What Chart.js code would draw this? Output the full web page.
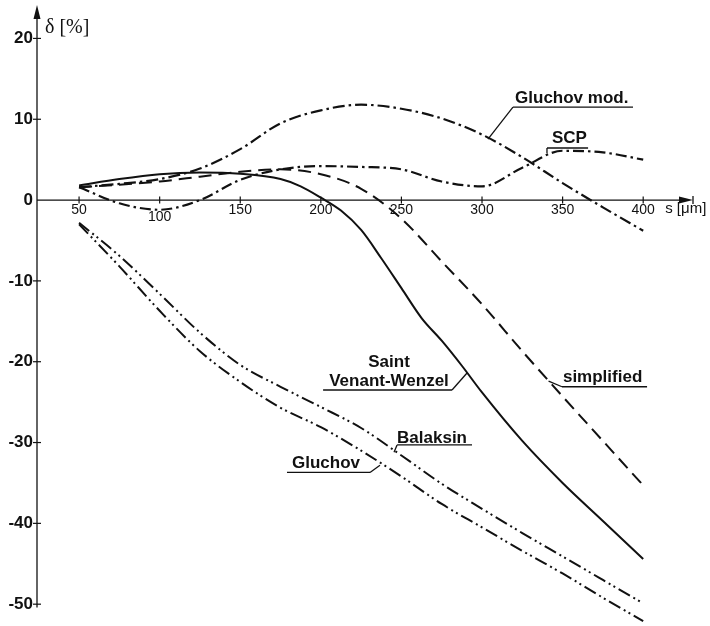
<!DOCTYPE html>
<html>
<head>
<meta charset="utf-8">
<script src="https://cdn.jsdelivr.net/npm/chart.js@4/dist/chart.umd.min.js"></script>
<style>
  html, body { margin: 0; padding: 0; background: #fff; }
  #wrap { width: 710px; height: 626px; }
</style>
</head>
<body>
<div id="wrap"><canvas id="c" width="710" height="626"></canvas></div>
<script>
// feed s [µm] shared by most curves
const sGrid = [50, 75, 100, 125, 150, 175, 200, 225, 250, 275, 300, 325, 350, 375, 400];

// Saint Venant-Wenzel needs a finer spacing through its bend
const sSaintVenant = [50, 75, 100, 125, 150, 175, 187.5, 200, 212.5, 225, 237.5, 250, 262.5, 275, 287.5, 300, 325, 350, 375, 400];
const saintVenant  = [1.8, 2.6, 3.2, 3.4, 3.25, 2.6, 1.7, 0.3, -1.3, -3.7, -7.2, -10.9, -14.6, -17.4, -20.5, -23.8, -29.8, -35.0, -39.7, -44.4];

// deviation delta [%] on sGrid
const simplified = [1.6, 1.9, 2.3, 2.9, 3.5, 3.8, 3.2, 1.4, -2.3, -7.6, -12.9, -18.7, -24.3, -29.8, -35.3];
const gluchovMod = [1.6, 2.0, 2.6, 3.9, 6.3, 9.5, 11.1, 11.8, 11.3, 10.1, 8.1, 5.3, 2.1, -0.9, -3.8];
const scp        = [1.6, -0.4, -1.2, 0.0, 2.5, 3.8, 4.2, 4.1, 3.8, 2.3, 1.7, 4.0, 6.1, 5.9, 5.0];
const balaksin   = [-2.8, -6.9, -11.6, -16.4, -20.4, -23.1, -25.6, -28.2, -31.6, -35.1, -38.2, -41.2, -44.1, -47.0, -49.9];
const gluchov    = [-3.0, -8.2, -13.7, -18.7, -22.5, -25.7, -28.1, -31.0, -34.2, -37.6, -40.5, -43.4, -46.2, -49.2, -52.1];

// axis ticks
const sTicks = [50, 100, 150, 200, 250, 300, 350, 400];
const deltaTicks = [-50, -40, -30, -20, -10, 0, 10, 20];

const INK = '#111';
const pts = (xs, ys) => xs.map((s, i) => ({ x: s, y: ys[i] }));

// curve labels: text anchor, underline and leader line, all in (s, delta)
const notes = [
  { lines: ['Gluchov mod.'], align: 'left', at: [320.5, 12.0], rule: [319.2, 393.7, 11.5], leader: [[319.2, 11.5], [303.7, 7.55]] },
  { lines: ['SCP'], align: 'left', at: [343.4, 7.05], rule: [340.3, 365.8, 6.44], leader: [[340.3, 6.44], [340.3, 5.8]] },
  { lines: ['Saint', 'Venant-Wenzel'], align: 'center', at: [242.3, -20.7], lineGap: 19, rule: [201.4, 281.4, -23.5], leader: [[281.4, -23.5], [290.7, -21.4]] },
  { lines: ['simplified'], align: 'left', at: [350.2, -22.5], rule: [349.6, 402.4, -23.1], leader: [[349.6, -23.1], [341.3, -22.4]] },
  { lines: ['Balaksin'], align: 'left', at: [247.3, -30.0], rule: [247.3, 293.8, -30.3], leader: [[247.3, -30.3], [245.4, -31.2]] },
  { lines: ['Gluchov'], align: 'left', at: [182.1, -33.2], rule: [179.0, 230.5, -33.7], leader: [[230.5, -33.7], [236.7, -32.8]] }
];

const frame = {
  id: 'frame',
  beforeDatasetsDraw(chart) {
    const { ctx, chartArea, scales: { x, y } } = chart;
    const ax = chartArea.left;
    const ay = y.getPixelForValue(0);
    ctx.save();
    ctx.strokeStyle = INK;
    ctx.fillStyle = INK;
    ctx.lineWidth = 1.3;

    // vertical axis with arrow
    const yTop = chartArea.top + 1;
    ctx.beginPath();
    ctx.moveTo(ax, y.getPixelForValue(-50.4));
    ctx.lineTo(ax, yTop + 8);
    ctx.stroke();
    ctx.beginPath();
    ctx.moveTo(ax, yTop);
    ctx.lineTo(ax - 3.5, yTop + 14);
    ctx.lineTo(ax + 3.5, yTop + 14);
    ctx.closePath();
    ctx.fill();

    // horizontal axis with arrow
    const xEnd = chartArea.right;
    ctx.beginPath();
    ctx.moveTo(ax, ay);
    ctx.lineTo(xEnd - 8, ay);
    ctx.stroke();
    ctx.beginPath();
    ctx.moveTo(xEnd, ay);
    ctx.lineTo(xEnd - 14, ay - 3.5);
    ctx.lineTo(xEnd - 14, ay + 3.5);
    ctx.closePath();
    ctx.fill();
    ctx.beginPath();
    ctx.moveTo(xEnd, ay - 4);
    ctx.lineTo(xEnd, ay + 4);
    ctx.stroke();

    // tick marks crossing the axes
    ctx.lineWidth = 1.2;
    deltaTicks.forEach(v => {
      if (v === 0) return;
      const py = y.getPixelForValue(v);
      ctx.beginPath();
      ctx.moveTo(ax - 4, py);
      ctx.lineTo(ax + 4, py);
      ctx.stroke();
    });
    sTicks.forEach(v => {
      const px = x.getPixelForValue(v);
      ctx.beginPath();
      ctx.moveTo(px, ay - 3.5);
      ctx.lineTo(px, ay + 3.5);
      ctx.stroke();
    });

    // axis titles
    ctx.textBaseline = 'alphabetic';
    ctx.textAlign = 'left';
    ctx.font = '20px "Liberation Serif", "Times New Roman", serif';
    ctx.fillText('\u03B4 [%]', ax + 8, 33);
    ctx.font = '15px "Liberation Sans", Arial, sans-serif';
    ctx.fillText('s [\u03BCm]', x.getPixelForValue(400) + 22, ay + 13);
    ctx.restore();
  },
  afterDatasetsDraw(chart) {
    const { ctx, scales: { x, y } } = chart;
    ctx.save();
    ctx.fillStyle = INK;
    ctx.strokeStyle = INK;
    ctx.lineWidth = 1.3;
    ctx.font = 'bold 17px "Liberation Sans", Arial, sans-serif';
    ctx.textBaseline = 'alphabetic';
    notes.forEach(n => {
      ctx.textAlign = n.align;
      const tx = x.getPixelForValue(n.at[0]);
      const ty = y.getPixelForValue(n.at[1]);
      n.lines.forEach((t, i) => ctx.fillText(t, tx, ty + i * (n.lineGap || 0)));
      const ry = y.getPixelForValue(n.rule[2]);
      ctx.beginPath();
      ctx.moveTo(x.getPixelForValue(n.rule[0]), ry);
      ctx.lineTo(x.getPixelForValue(n.rule[1]), ry);
      ctx.stroke();
      ctx.beginPath();
      ctx.moveTo(x.getPixelForValue(n.leader[0][0]), y.getPixelForValue(n.leader[0][1]));
      ctx.lineTo(x.getPixelForValue(n.leader[1][0]), y.getPixelForValue(n.leader[1][1]));
      ctx.stroke();
    });
    ctx.restore();
  }
};

const line = (label, data, dash, width) => ({
  label,
  data,
  borderColor: INK,
  borderWidth: width || 2,
  borderDash: dash,
  pointRadius: 0,
  fill: false,
  cubicInterpolationMode: 'monotone'
});

// labels sit next to the axes, so they must not shrink the plot area
const noEdgePadding = sc => {
  sc.paddingTop = 0;
  sc.paddingBottom = 0;
  sc.paddingLeft = 0;
  sc.paddingRight = 0;
};

new Chart(document.getElementById('c'), {
  type: 'line',
  data: {
    datasets: [
      line('Saint Venant-Wenzel', pts(sSaintVenant, saintVenant), [], 2),
      line('simplified', pts(sGrid, simplified), [13, 7], 2),
      line('Gluchov mod.', pts(sGrid, gluchovMod), [12, 4, 2.5, 4], 2.2),
      line('SCP', pts(sGrid, scp), [11, 4, 2.5, 4], 2.2),
      line('Balaksin', pts(sGrid, balaksin), [13, 4, 2, 3.5, 2, 4], 2),
      line('Gluchov', pts(sGrid, gluchov), [13, 4, 2, 3.5, 2, 4], 2)
    ]
  },
  options: {
    responsive: false,
    animation: false,
    devicePixelRatio: 1,
    layout: { padding: { top: 4, right: 17, bottom: 0, left: 0 } },
    plugins: { legend: { display: false }, tooltip: { enabled: false } },
    scales: {
      x: {
        type: 'linear',
        min: 23.9,
        max: 430.9,
        position: { y: 0 },
        grid: { display: false, drawTicks: false },
        border: { display: false },
        afterBuildTicks: sc => { sc.ticks = sTicks.map(v => ({ value: v })); },
        afterFit: noEdgePadding,
        ticks: {
          color: INK,
          padding: 2,
          autoSkip: false,
          maxRotation: 0,
          // the 100 label is set a little lower, clear of the SCP dip
          font: c => ({
            family: '"Liberation Sans", Arial, sans-serif',
            size: 14,
            lineHeight: c.tick && c.tick.value === 100 ? 2.2 : 1.2
          })
        }
      },
      y: {
        type: 'linear',
        min: -52.7,
        max: 24.26,
        grid: { display: false, drawTicks: false },
        border: { display: false },
        afterBuildTicks: sc => { sc.ticks = deltaTicks.map(v => ({ value: v })); },
        afterFit: sc => { sc.width = 37; noEdgePadding(sc); },
        ticks: {
          color: INK,
          padding: 4,
          font: { family: '"Liberation Sans", Arial, sans-serif', size: 17, weight: 'bold' }
        }
      }
    }
  },
  plugins: [frame]
});
</script>
</body>
</html>
